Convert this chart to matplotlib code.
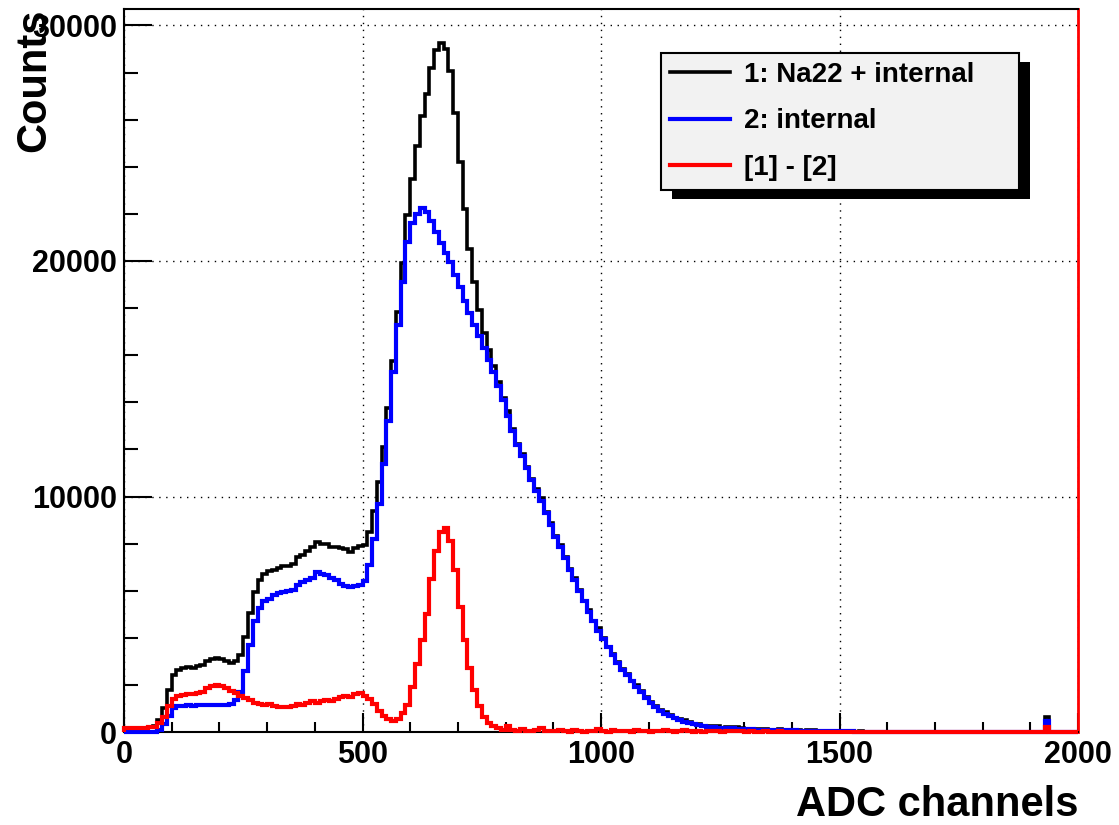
import numpy as np
import matplotlib
matplotlib.use("Agg")
import matplotlib.pyplot as plt
from matplotlib.ticker import MultipleLocator
from matplotlib.patches import Rectangle
from matplotlib.lines import Line2D
from matplotlib.transforms import IdentityTransform

plt.rcParams['font.family'] = ['Liberation Sans', 'DejaVu Sans']
plt.rcParams['font.weight'] = 'bold'

# ADC binning: 10 channels per bin, 0..2000
bin_edges = np.arange(0, 2001, 10)

# spectrum "2: internal" (counts per bin)
counts_internal = np.array([
    0, 0, 0, 0, 0, 0, 10, 100, 350, 700,
    1000, 1100, 1120, 1130, 1120, 1140, 1130, 1150, 1140, 1150,
    1150, 1160, 1200, 1350, 1700, 2600, 3700, 4700, 5250, 5550,
    5650, 5800, 5900, 5950, 6000, 6050, 6250, 6350, 6450, 6550,
    6800, 6700, 6650, 6550, 6450, 6300, 6200, 6150, 6200, 6250,
    6400, 7100, 8200, 9700, 11400, 13200, 15300, 17300, 19100, 20800,
    21600, 22000, 22250, 22100, 21700, 21250, 20750, 20350, 19950, 19400,
    18900, 18300, 17800, 17300, 16800, 16300, 15800, 15300, 14700, 14100,
    13400, 12800, 12200, 11700, 11200, 10700, 10250, 9800, 9300, 8800,
    8300, 7850, 7400, 6900, 6450, 6000, 5550, 5100, 4700, 4300,
    3950, 3600, 3250, 2950, 2650, 2400, 2150, 1900, 1700, 1450,
    1250, 1050, 900, 780, 680, 580, 500, 430, 380, 330,
    290, 260, 230, 210, 190, 170, 160, 150, 140, 130,
    120, 110, 100, 100, 90, 90, 80, 80, 70, 70,
    70, 60, 60, 60, 50, 50, 50, 40, 40, 40,
    30, 30, 30, 20, 20, 20, 10, 0, 0, 0,
    0, 0, 0, 0, 0, 0, 0, 0, 0, 0,
    0, 0, 0, 0, 0, 0, 0, 0, 0, 0,
    0, 0, 0, 0, 0, 0, 0, 0, 0, 0,
    0, 0, 0, 450, 0, 0, 0, 0, 0, 0,
])

# "[1] - [2]": Na22 contribution (counts per bin)
counts_diff = np.array([
    150, 180, 170, 160, 190, 200, 230, 400, 650, 1100,
    1400, 1550, 1580, 1620, 1600, 1650, 1700, 1850, 1950, 2000,
    1950, 1850, 1750, 1650, 1550, 1450, 1350, 1250, 1200, 1150,
    1200, 1100, 1050, 1080, 1060, 1100, 1200, 1150, 1250, 1300,
    1250, 1300, 1350, 1300, 1400, 1500, 1550, 1500, 1600, 1650,
    1550, 1400, 1200, 900, 700, 550, 450, 550, 800, 1150,
    1900, 2900, 3900, 5000, 6500, 7700, 8500, 8650, 8100, 6900,
    5300, 3900, 2700, 1800, 1100, 650, 400, 250, 150, 100,
    250, 80, 50, 120, 60, 30, 80, 150, 40, 60,
    30, 100, 50, 20, 80, 40, 10, 60, 30, 120,
    50, 20, 80, 40, 30, 60, 10, 100, 50, 30,
    20, 60, 30, 80, 40, 10, 50, 90, 30, 20,
    40, 10, 30, 60, 50, 20, 40, 50, 60, 30,
    20, 30, 10, 20, 40, 10, 20, 30, 10, 20,
    10, 20, 0, 10, 20, 0, 10, 0, 10, 0,
    0, 10, 0, 0, 10, 0, 0, 0, 0, 0,
    0, 0, 0, 0, 0, 0, 0, 0, 0, 0,
    0, 0, 0, 0, 0, 0, 0, 0, 0, 0,
    0, 0, 0, 0, 0, 0, 0, 0, 0, 0,
    0, 0, 0, 200, 0, 0, 0, 0, 0, 0,
])

# "1: Na22 + internal"
counts_total = counts_internal + counts_diff

labels = ['1: Na22 + internal', '2: internal', '[1] - [2]']
colors = ['black', '#0000ff', '#ff0000']
widths = [2.6, 3.0, 3.0]

fig = plt.figure(figsize=(11.19, 8.25), dpi=100)
ax = fig.add_axes([0.1108, 0.1127, 0.8526, 0.8764])

for i, vals in enumerate([counts_total, counts_internal, counts_diff]):
    ax.stairs(vals, bin_edges, color=colors[i], linewidth=widths[i],
              baseline=0, clip_on=False, label=labels[i], zorder=3 + i)

ax.set_xlim(0, 2000)
ax.set_ylim(0, 30700)
ax.set_xticks([0, 500, 1000, 1500, 2000])
ax.set_yticks([0, 10000, 20000, 30000])
ax.xaxis.set_minor_locator(MultipleLocator(100))
ax.yaxis.set_minor_locator(MultipleLocator(2000))

ax.tick_params(axis='both', which='both', direction='in', top=False, right=False,
               width=1.5, labelsize=22)
ax.tick_params(axis='y', which='major', length=20, pad=5)
ax.tick_params(axis='y', which='minor', length=10)
ax.tick_params(axis='x', which='major', length=14, pad=6)
ax.tick_params(axis='x', which='minor', length=7)
for lab in ax.get_xticklabels() + ax.get_yticklabels():
    lab.set_fontweight('bold')

ax.grid(True, which='major', color='black', linestyle=(0, (1, 4)), linewidth=1.0)

for side in ['left', 'bottom', 'top']:
    ax.spines[side].set_linewidth(1.5)
    ax.spines[side].set_color('black')
ax.spines['right'].set_color('#ff0000')
ax.spines['right'].set_linewidth(2)

ax.set_xlabel('ADC channels', fontsize=30, fontweight='bold', loc='right')
ax.set_ylabel('Counts', fontsize=30, fontweight='bold', loc='top')
ax.xaxis.set_label_coords(1.0, -0.073)
ax.yaxis.set_label_coords(-0.073, 1.0)

handles = [Line2D([], [], color=colors[i], linewidth=widths[i]) for i in range(3)]
leg = ax.legend(handles, labels, loc='upper left',
                bbox_to_anchor=(0.5629, 0.9391 - 0.19, 0.3753, 0.19),
                mode='expand', borderaxespad=0, borderpad=0.33,
                handlelength=2.15, handletextpad=0.5, labelspacing=0.73,
                prop={'weight': 'bold', 'size': 20},
                fancybox=False, framealpha=1, facecolor='#f2f2f2',
                edgecolor='black')
leg.get_frame().set_linewidth(1.5)
leg.set_zorder(10)

# ROOT-style drop shadow behind the legend box
fig.canvas.draw()
bb = leg.get_window_extent()
shadow = Rectangle((bb.x0 + 11, bb.y0 - 9), bb.width, bb.height,
                   transform=IdentityTransform(), facecolor='black',
                   edgecolor='none', zorder=9, clip_on=False)
ax.add_patch(shadow)

fig.savefig('out.png', dpi=100)
